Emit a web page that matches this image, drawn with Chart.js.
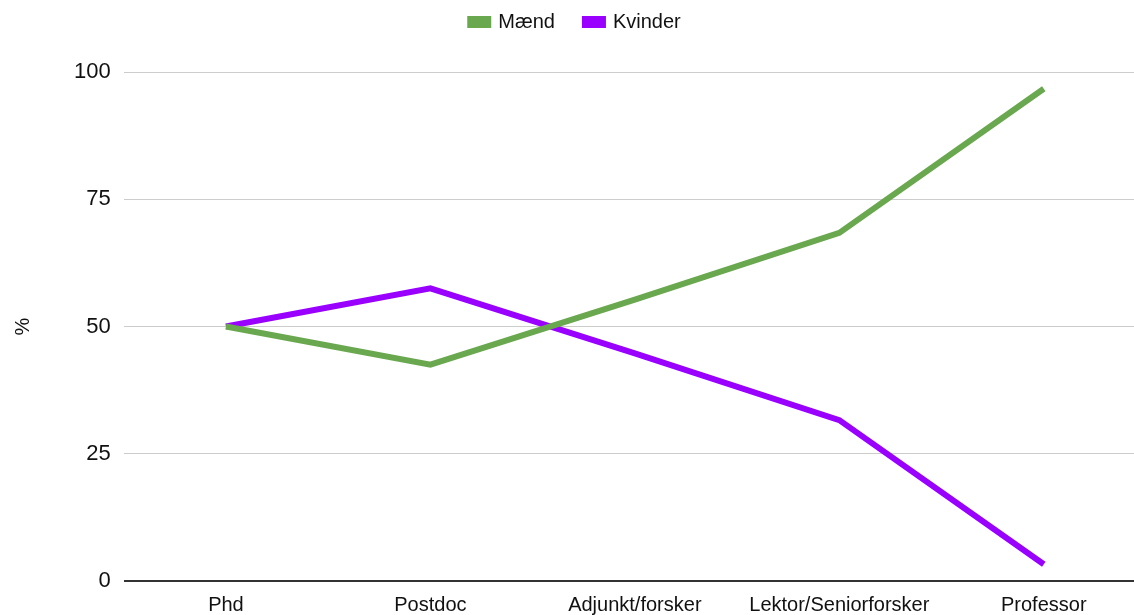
<!DOCTYPE html>
<html>
<head>
<meta charset="utf-8">
<script src="https://cdn.jsdelivr.net/npm/chart.js@4"></script>
<style>
  html, body { margin: 0; padding: 0; background: #fff; overflow: hidden; }
  #wrap { width: 1146px; height: 615px; }
</style>
</head>
<body>
<div id="wrap"><canvas id="myChart" width="1146" height="615"></canvas></div>
<script>
const categories = ['Phd', 'Postdoc', 'Adjunkt/forsker', 'Lektor/Seniorforsker', 'Professor'];
const maend = [50, 42.5, 55.3, 68.4, 96.7];
const kvinder = [50, 57.5, 44.7, 31.6, 3.3];
const yTicks = [0, 25, 50, 75, 100];

const fontFamily = "'Liberation Sans', Arial, sans-serif";

// extra room under the legend
const legendSpace = {
  id: 'legendSpace',
  beforeInit(chart) {
    const fit = chart.legend.fit;
    chart.legend.fit = function () {
      fit.bind(chart.legend)();
      this.height += 30;
    };
  },
};

const ctx = document.getElementById('myChart').getContext('2d');
const chart = new Chart(ctx, {
  type: 'line',
  data: {
    labels: categories,
    datasets: [
      {
        label: 'Mænd',
        data: maend,
        borderColor: '#6aa84f',
        backgroundColor: '#6aa84f',
        borderWidth: 6,
        pointRadius: 0,
        tension: 0,
      },
      {
        label: 'Kvinder',
        data: kvinder,
        borderColor: '#9900ff',
        backgroundColor: '#9900ff',
        borderWidth: 6,
        pointRadius: 0,
        tension: 0,
      },
    ],
  },
  options: {
    responsive: false,
    animation: false,
    layout: { padding: { top: -18, left: 5, right: 0, bottom: -6 } },
    plugins: {
      tooltip: { enabled: false },
      legend: {
        position: 'top',
        labels: {
          boxWidth: 18,
          boxHeight: 6,
          padding: 30,
          color: '#111',
          font: { family: fontFamily, size: 20 },
        },
      },
    },
    scales: {
      x: {
        offset: true,
        grid: { display: false },
        border: { display: false },
        ticks: {
          color: '#111',
          font: { family: fontFamily, size: 20 },
          maxRotation: 0,
          padding: 4,
        },
      },
      y: {
        min: 0,
        max: 100,
        afterBuildTicks: (axis) => {
          axis.ticks = yTicks.map((v) => ({ value: v }));
        },
        grid: {
          color: (c) => (c.tick && c.tick.value === 0 ? '#333' : '#cccccc'),
          lineWidth: (c) => (c.tick && c.tick.value === 0 ? 2 : 1),
          drawTicks: false,
        },
        border: { display: false },
        ticks: {
          color: '#111',
          font: { family: fontFamily, size: 22 },
          padding: 13,
        },
        title: {
          display: true,
          text: '%',
          color: '#111',
          font: { family: fontFamily, size: 20 },
          padding: { top: 6, bottom: 26 },
        },
      },
    },
  },
  plugins: [legendSpace],
});
</script>
</body>
</html>
